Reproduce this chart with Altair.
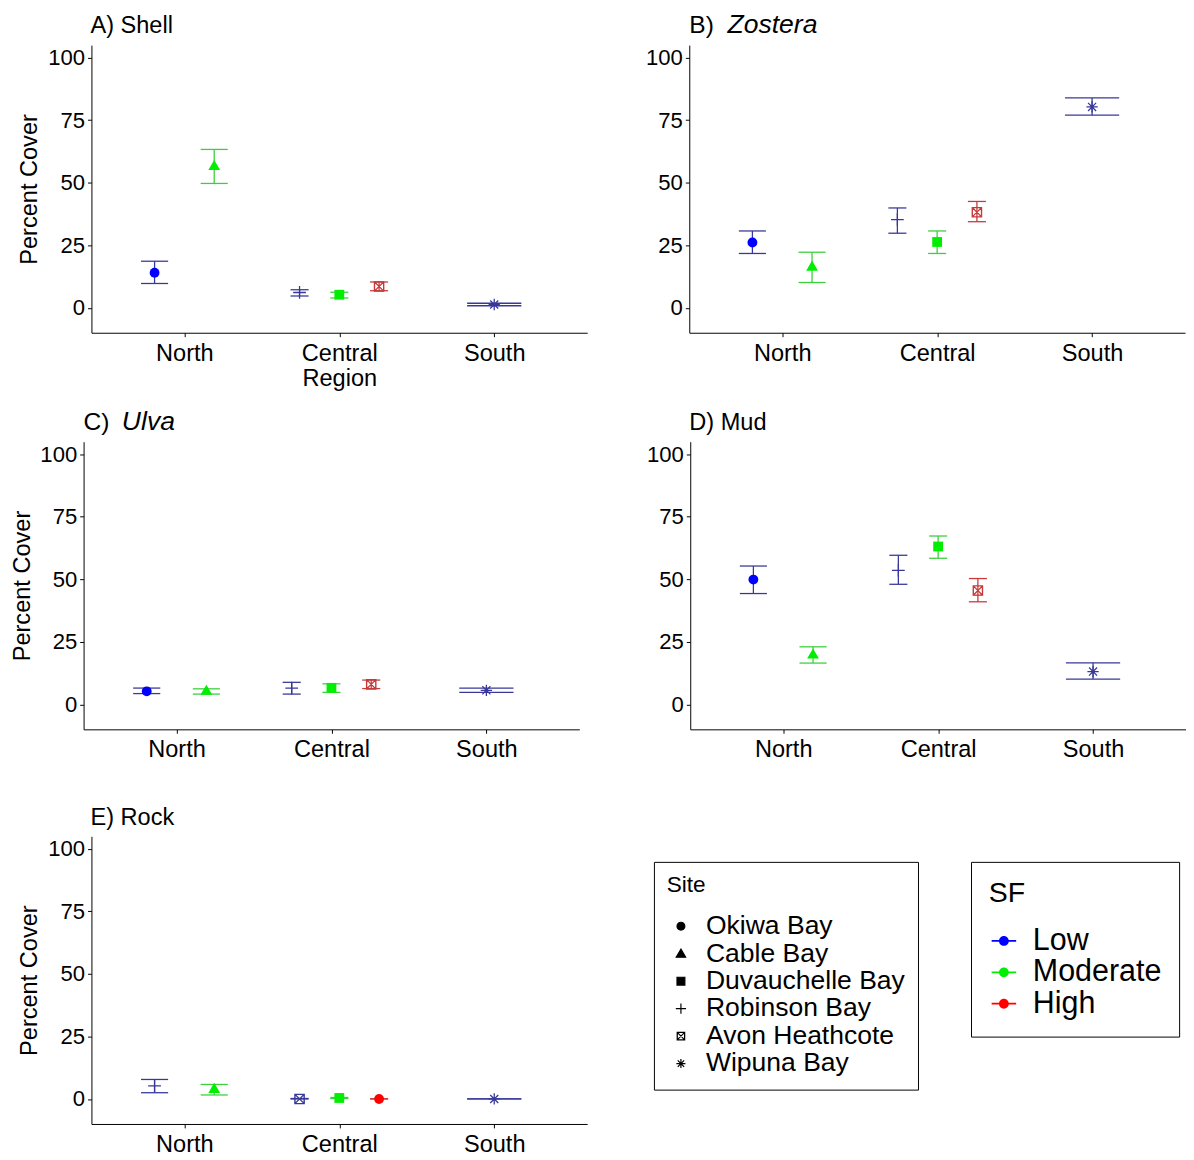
import altair as alt
import pandas as pd

# ---------------- data ----------------
regions = ["North", "Central", "South"]
sf_levels = ["Low", "Moderate", "High"]
sites = ["Okiwa Bay", "Cable Bay", "Duvauchelle Bay", "Robinson Bay",
         "Avon Heathcote", "Wipuna Bay"]

row_region = ["North", "North", "Central", "Central", "Central", "South"]
row_sf = ["Low", "Moderate", "Low", "Moderate", "High", "Low"]
row_site = ["Okiwa Bay", "Cable Bay", "Robinson Bay", "Duvauchelle Bay",
            "Avon Heathcote", "Wipuna Bay"]
rock_site = ["Robinson Bay", "Cable Bay", "Avon Heathcote", "Duvauchelle Bay",
             "Okiwa Bay", "Wipuna Bay"]

shell_mean = [14.0, 56.8, 6.1, 5.2, 8.5, 1.3]
shell_lo = [9.7, 49.7, 4.7, 3.9, 6.8, 0.8]
shell_hi = [18.6, 63.3, 7.2, 6.2, 10.3, 1.8]

zostera_mean = [26.1, 16.6, 35.2, 26.3, 38.2, 80.3]
zostera_lo = [21.7, 10.1, 29.8, 21.7, 34.4, 77.0]
zostera_hi = [30.7, 22.2, 39.9, 30.7, 42.5, 83.9]

ulva_mean = [5.2, 5.6, 6.5, 6.6, 8.0, 5.6]
ulva_lo = [4.3, 4.1, 4.1, 4.8, 6.3, 4.8]
ulva_hi = [6.5, 6.2, 8.8, 8.2, 9.7, 6.5]

mud_mean = [49.9, 20.1, 53.6, 63.1, 45.5, 13.1]
mud_lo = [44.3, 16.5, 48.0, 58.4, 41.0, 10.1]
mud_hi = [55.3, 23.0, 59.6, 67.3, 50.3, 16.6]

rock_mean = [5.2, 4.2, 0.0, 0.4, 0.0, 0.0]
rock_lo = [2.5, 1.6, 0.0, 0.2, 0.0, 0.0]
rock_hi = [7.8, 5.8, 0.2, 0.6, 0.1, 0.0]

panels = [
    ("A", "A) Shell", None, shell_mean, shell_lo, shell_hi, row_site),
    ("B", "B)", "Zostera", zostera_mean, zostera_lo, zostera_hi, row_site),
    ("C", "C)", "Ulva", ulva_mean, ulva_lo, ulva_hi, row_site),
    ("D", "D) Mud", None, mud_mean, mud_lo, mud_hi, row_site),
    ("E", "E) Rock", None, rock_mean, rock_lo, rock_hi, rock_site),
]

records = []
for key, _, _, m, lo, hi, st in panels:
    for i in range(len(m)):
        records.append({"Panel": key, "Region": row_region[i], "SF": row_sf[i],
                        "Site": st[i], "Mean": m[i], "Lo": lo[i], "Hi": hi[i]})
df = pd.DataFrame(records)

# ---------------- style ----------------
FONT = "Liberation Sans"
fill_range = ["#0000ff", "#00ee00", "#ff0000"]
line_range = ["#38389a", "#3ccf3c", "#c63a3a"]
shape_paths = [
    "circle",
    "M0,-1.15L1.2,0.9L-1.2,0.9Z",
    "square",
    "M-1.3,0H1.3M0,-1.3V1.3",
    "M-0.95,-0.95H0.95V0.95H-0.95ZM-0.93,-0.93V0.93H0.93V-0.93ZM-0.95,-0.95L0.95,0.95M0.95,-0.95L-0.95,0.95",
    "M-1.15,0H1.15M0,-1.15V1.15M-0.82,-0.82L0.82,0.82M0.82,-0.82L-0.82,0.82",
]
line_sites = ["Robinson Bay", "Avon Heathcote", "Wipuna Bay"]
sf_symbol = "M-1,-0.07H1V0.07H-1ZM0.4,0A0.4,0.4,0,1,1,-0.4,0A0.4,0.4,0,1,1,0.4,0Z"

DODGE = 0.77
CAPW = 0.35
W, H = 505, 293

site_legend = alt.Legend(
    title="Site", orient="none", legendX=573, legendY=832, direction="vertical",
    strokeColor="black", fillColor="white", padding=13, cornerRadius=0,
    titleFont=FONT, titleFontSize=23, titleFontWeight="normal", titleColor="black",
    labelFont=FONT, labelFontSize=27, labelColor="black",
    symbolSize=64, symbolFillColor="black", symbolStrokeColor="black",
    symbolStrokeWidth=1.2, symbolOffset=1, labelOffset=12, rowPadding=0,
    titlePadding=16, labelLimit=400,
)
sf_legend = alt.Legend(
    title="SF", orient="none", legendX=896, legendY=832, direction="vertical",
    strokeColor="black", fillColor="white", padding=18, cornerRadius=0,
    titleFont=FONT, titleFontSize=29, titleFontWeight="normal", titleColor="black",
    labelFont=FONT, labelFontSize=31, labelColor="black",
    symbolType=sf_symbol, symbolSize=625, symbolStrokeWidth=0,
    labelOffset=14, rowPadding=0, titlePadding=18, labelLimit=400,
)

line_test = f"indexof({line_sites}, datum.Site) >= 0"
label_expr = f"{regions}[datum.value - 1]"


def make_panel(key, title, italic, show_ytitle, show_xtitle, shift=0):
    xaxis = alt.Axis(values=[1, 2, 3], labelExpr=label_expr, grid=False,
                     title="Region" if show_xtitle else None,
                     labelFontSize=24, titleFontSize=24, tickSize=4,
                     labelPadding=5, titlePadding=2, domainColor="black",
                     tickColor="black", labelColor="black", titleColor="black",
                     labelFont=FONT, titleFont=FONT, titleFontWeight="normal")
    yaxis = alt.Axis(values=[0, 25, 50, 75, 100], grid=False,
                     title="Percent Cover" if show_ytitle else None,
                     labelFontSize=22.5, titleFontSize=24, tickSize=4,
                     labelPadding=3, titlePadding=6, domainColor="black",
                     tickColor="black", labelColor="black", titleColor="black",
                     labelFont=FONT, titleFont=FONT, titleFontWeight="normal",
                     offset=shift)
    xs = alt.Scale(domain=[0.4, 3.6], range=[-shift, W - shift], nice=False, zero=False)
    ys = alt.Scale(domain=[-10, 105], nice=False, zero=False)
    # reversed domain order keeps this scale's legend apart from the fill legend
    stroke_enc = alt.Stroke("SF:N",
                            scale=alt.Scale(domain=sf_levels[::-1], range=line_range[::-1]),
                            legend=None)

    base = (
        alt.Chart(df)
        .transform_filter(alt.datum.Panel == key)
        .transform_joinaggregate(n="count()", groupby=["Region"])
        .transform_calculate(
            sfi=f"indexof({sf_levels}, datum.SF)",
            rx=f"indexof({regions}, datum.Region) + 1",
        )
        .transform_window(k="row_number()", groupby=["Region"],
                          sort=[alt.SortField("sfi")])
        .transform_calculate(
            xpos=f"datum.rx + (datum.k - (datum.n + 1) / 2) * {DODGE} / datum.n"
        )
        .transform_calculate(
            xl=f"datum.xpos - {CAPW} / (2 * datum.n)",
            xr=f"datum.xpos + {CAPW} / (2 * datum.n)",
        )
    )
    X = alt.X("xpos:Q", scale=xs, axis=xaxis)
    vrule = base.mark_rule(strokeWidth=1.3).encode(
        x=X, y=alt.Y("Lo:Q", scale=ys, axis=yaxis), y2="Hi:Q", stroke=stroke_enc)
    cap_hi = base.mark_rule(strokeWidth=1.3).encode(
        x=alt.X("xl:Q", scale=xs, axis=xaxis), x2="xr:Q",
        y=alt.Y("Hi:Q", scale=ys, axis=yaxis), stroke=stroke_enc)
    cap_lo = base.mark_rule(strokeWidth=1.3).encode(
        x=alt.X("xl:Q", scale=xs, axis=xaxis), x2="xr:Q",
        y=alt.Y("Lo:Q", scale=ys, axis=yaxis), stroke=stroke_enc)
    pts = base.mark_point(filled=True, opacity=1, size=100).encode(
        x=X,
        y=alt.Y("Mean:Q", scale=ys, axis=yaxis),
        shape=alt.Shape("Site:N", scale=alt.Scale(domain=sites, range=shape_paths),
                        legend=site_legend),
        fill=alt.Fill("SF:N", scale=alt.Scale(domain=sf_levels, range=fill_range),
                      legend=sf_legend),
        stroke=stroke_enc,
        strokeWidth=alt.condition(line_test, alt.value(1.3), alt.value(0)),
    )
    layers = [vrule, cap_hi, cap_lo, pts]
    if italic:
        t1 = alt.Chart(pd.DataFrame({"t": [title]})).mark_text(
            font=FONT, fontSize=25, align="left", baseline="alphabetic",
            color="black").encode(text="t:N", x=alt.value(-shift), y=alt.value(-12))
        t2 = alt.Chart(pd.DataFrame({"t": [italic]})).mark_text(
            font=FONT, fontSize=27, fontStyle="italic", align="left",
            baseline="alphabetic", color="black",
        ).encode(text="t:N", x=alt.value(39 - shift), y=alt.value(-12))
        layers += [t1, t2]
    else:
        t1 = alt.Chart(pd.DataFrame({"t": [title]})).mark_text(
            font=FONT, fontSize=24, align="left", baseline="alphabetic",
            color="black").encode(text="t:N", x=alt.value(-1 - shift), y=alt.value(-12))
        layers.append(t1)
    return alt.layer(*layers).properties(width=W, height=H)


pA = make_panel("A", "A) Shell", None, True, True)
pB = make_panel("B", "B)", "Zostera", False, False)
pC = make_panel("C", "C)", "Ulva", True, False, shift=8)
pD = make_panel("D", "D) Mud", None, False, False)
pE = make_panel("E", "E) Rock", None, True, False)

row1 = alt.hconcat(pA, pB, spacing=59)
row2 = alt.hconcat(pC, pD, spacing=60)
chart = alt.vconcat(alt.vconcat(row1, row2, spacing=18), pE, spacing=45).properties(
    padding={"left": 2, "top": -7, "right": 0, "bottom": 0}
).configure_view(stroke=None).configure_legend(labelLimit=400)

chart.save("out.html", embed_options={"renderer": "svg", "actions": False})
